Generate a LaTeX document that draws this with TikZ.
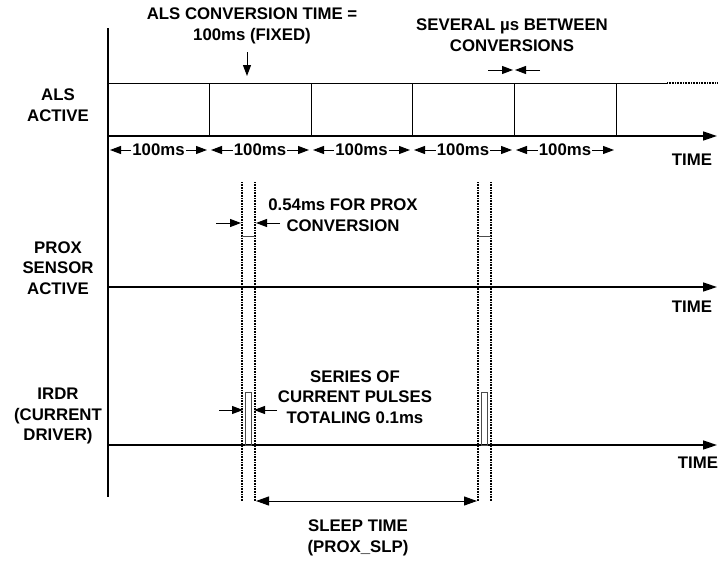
\documentclass[tikz,border=0pt]{standalone}
\usepackage{fontspec}
\setmainfont{Liberation Sans}
\usetikzlibrary{arrows.meta}
\begin{document}
\begin{tikzpicture}[x=1pt,y=-1pt,
  lbl/.style={font=\bfseries\fontsize{16.8}{20.5}\selectfont, align=center, inner sep=1pt},
  axisline/.style={line width=1.6pt,-{Triangle[length=14pt,width=9pt]}},
  vaxis/.style={line width=1.6pt},
  thinline/.style={line width=0.9pt},
  dotline/.style={line width=1.4pt, dash pattern=on 0.8pt off 0.8pt},
  tip/.style={-{Triangle[length=11pt,width=8pt]}, line width=1pt},
  dtip/.style={{Triangle[length=13pt,width=9pt]}-{Triangle[length=13pt,width=9pt]}, line width=1pt},
  pulse/.style={line width=0.8pt, draw=black!70}]
\useasboundingbox (0,0) rectangle (719,562);

% vertical axis
\coordinate (vtop) at (108,28);
\coordinate (vbot) at (108,497);
\draw[vaxis] (vtop) -- (vbot);

% ALS row
\coordinate (alsTL) at (108,83);
\coordinate (alsTR) at (667,83);
\coordinate (alsTE) at (718,83);
\draw[thinline] (alsTL) -- (alsTR);
\draw[dotline] (alsTR) -- (alsTE);
\coordinate (alsA0) at (108,136);
\coordinate (alsA1) at (717,136);
\draw[axisline] (alsA0) -- (alsA1);
\foreach \x [count=\i] in {209,311,412,514,616}{
  \coordinate (dt\i) at (\x,83);
  \coordinate (db\i) at (\x,136);
  \draw[thinline] (dt\i) -- (db\i);
}
% 100ms segments
\foreach \a/\b [count=\i] in {108/209,209/311,311/412,412/514,514/616}{
  \node[lbl] (ms\i) at ({(\a+\b)/2},150) {100ms};
  \coordinate (msL\i) at ({\a+2},150);
  \coordinate (msR\i) at ({\b-2},150);
  \draw[tip] (ms\i.west) -- (msL\i);
  \draw[tip] (ms\i.east) -- (msR\i);
}
\node[lbl] (time1) at (692,160) {TIME};

% ALS conversion label
\node[lbl] (alsconv) at (252,26) {ALS CONVERSION TIME =\\100ms (FIXED)};
\coordinate (acA) at (247,52);
\coordinate (acB) at (247,76);
\draw[tip] (acA) -- (acB);

% several us label
\node[lbl] (several) at (512,35) {SEVERAL \textmu s BETWEEN\\CONVERSIONS};
\coordinate (svA) at (488,70);
\coordinate (svB) at (513,70);
\coordinate (svC) at (540,70);
\coordinate (svD) at (515,70);
\draw[tip] (svA) -- (svB);
\draw[tip] (svC) -- (svD);

% dotted guide lines
\foreach \x [count=\i] in {242,255,478,491}{
  \coordinate (gt\i) at (\x,182);
  \coordinate (gb\i) at (\x,501);
  \draw[dotline] (gt\i) -- (gb\i);
}

% PROX row
\coordinate (pxA0) at (108,287);
\coordinate (pxA1) at (717,287);
\draw[axisline] (pxA0) -- (pxA1);
\coordinate (pp1a) at (242,236);
\coordinate (pp1b) at (255,236);
\coordinate (pp2a) at (478,236);
\coordinate (pp2b) at (491,236);
\draw[pulse] (pp1a) -- (pp1b);
\draw[pulse] (pp2a) -- (pp2b);
\node[lbl] (time2) at (692,307) {TIME};
\node[lbl] (proxconv) at (343,215) {0.54ms FOR PROX\\CONVERSION};
\coordinate (pcA) at (216,223);
\coordinate (pcB) at (241,223);
\coordinate (pcC) at (280,223);
\coordinate (pcD) at (256,223);
\draw[tip] (pcA) -- (pcB);
\draw[tip] (pcC) -- (pcD);

% IRDR row
\coordinate (irA0) at (108,445);
\coordinate (irA1) at (717,445);
\draw[axisline] (irA0) -- (irA1);
\draw[pulse] (245,445) rectangle (251,392);
\draw[pulse] (481,445) rectangle (487,392);
\node[lbl] (time3) at (698,463) {TIME};
\node[lbl] (series) at (355,397) {SERIES OF\\CURRENT PULSES\\TOTALING 0.1ms};
\coordinate (irpA) at (219,410);
\coordinate (irpB) at (243,410);
\coordinate (irpC) at (277,410);
\coordinate (irpD) at (254,410);
\draw[tip] (irpA) -- (irpB);
\draw[tip] (irpC) -- (irpD);

% sleep time
\coordinate (slA) at (256,501);
\coordinate (slB) at (477,501);
\draw[dtip] (slA) -- (slB);
\node[lbl] (sleep) at (358,538) {SLEEP TIME\\(PROX\_SLP)};

% left labels
\node[lbl] (lals) at (58,105) {ALS\\ACTIVE};
\node[lbl] (lprox) at (58,268) {PROX\\SENSOR\\ACTIVE};
\node[lbl] (lirdr) at (58,416) {IRDR\\(CURRENT\\DRIVER)};
\end{tikzpicture}
\end{document}
